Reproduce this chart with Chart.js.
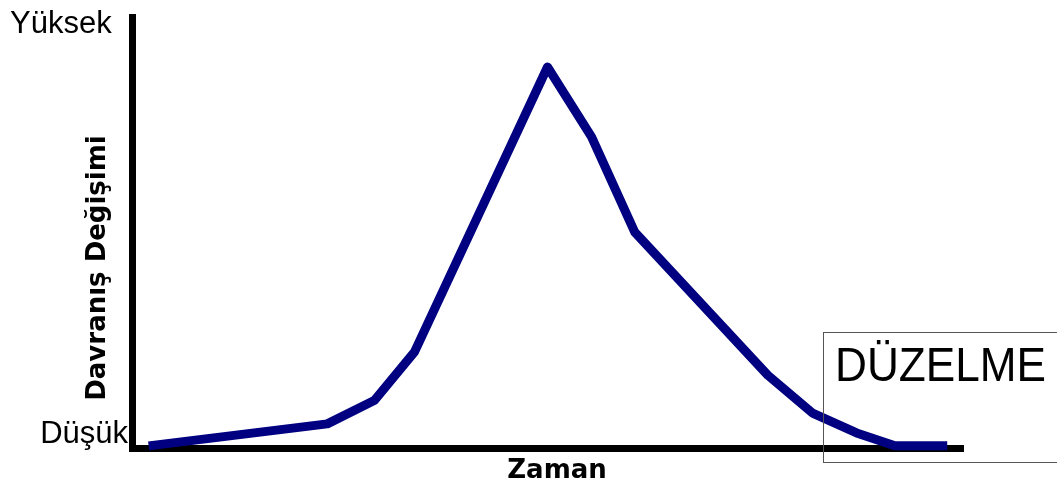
<!DOCTYPE html>
<html>
<head>
<meta charset="utf-8">
<script src="https://cdn.jsdelivr.net/npm/chart.js@4"></script>
<style>
  body { margin: 0; background: #fff; overflow: hidden; }
  #wrap { position: relative; width: 1057px; height: 492px; overflow: hidden; }
  #box {
    position: absolute; left: 823px; top: 332px; width: 300px; height: 131px;
    border: 1.5px solid #555; border-right: none; box-sizing: border-box;
  }
  #box span {
    position: absolute; left: 11px; top: 4px;
    font: 48px "Liberation Sans", Arial, sans-serif; color: #000;
    transform: scaleX(0.92); transform-origin: left top; white-space: nowrap;
  }
</style>
</head>
<body>
<div id="wrap">
  <canvas id="myChart"></canvas>
  <div id="box"><span>DÜZELME</span></div>
</div>
<script>
// zaman (0-100) ve davranış değişimi (0-100)
let zaman = [2, 23.5, 29.2, 34, 50, 55.3, 60.5, 76.5, 81.9, 87.2, 91.8, 98.1];
let degisim = [0.5, 5.6, 11.1, 22.3, 88.4, 72.2, 50.1, 16.9, 8.1, 3.5, 0.5, 0.5];

let yTickValues = [100, 0];
let yTickLabels = ["Yüksek", "Düşük"];
let yTitle = "Davranış Değişimi";
let xTitle = "Zaman";

let points = [];
for (let i = 0; i < zaman.length; i++) {
  points.push({ x: zaman[i], y: degisim[i] });
}

// eksen yazıları
const labelPlugin = {
  id: "labels",
  afterDraw(chart) {
    let ctx = chart.ctx;
    let yScale = chart.scales.y;
    let xScale = chart.scales.x;
    ctx.save();
    ctx.fillStyle = "#000";

    ctx.font = '31px "Liberation Sans", Arial, sans-serif';
    ctx.textBaseline = "alphabetic";
    ctx.textAlign = "left";
    ctx.fillText(yTickLabels[0], 10, yScale.getPixelForValue(yTickValues[0]) + 16);
    ctx.textAlign = "right";
    ctx.fillText(yTickLabels[1], 128, yScale.getPixelForValue(yTickValues[1]) - 5);

    ctx.font = 'bold 26px "DejaVu Sans", sans-serif';
    ctx.textAlign = "center";
    ctx.fillText(xTitle, 557, xScale.bottom + 30);

    ctx.translate(105, 268);
    ctx.rotate(-Math.PI / 2);
    ctx.fillText(yTitle, 0, 0);
    ctx.restore();
  },
};

let ctx = document.getElementById("myChart").getContext("2d");
let chart = new Chart(ctx, {
  type: "line",
  data: {
    datasets: [
      {
        data: points,
        borderColor: "#000080",
        borderWidth: 9,
        borderJoinStyle: "round",
        pointRadius: 0,
        tension: 0,
        clip: false,
      },
    ],
  },
  options: {
    responsive: true,
    maintainAspectRatio: false,
    animation: false,
    layout: { padding: { left: 132, top: 17, right: 94, bottom: 44 } },
    plugins: { legend: { display: false }, tooltip: { enabled: false } },
    scales: {
      x: {
        type: "linear",
        min: 0,
        max: 100,
        ticks: { display: false },
        grid: { display: false, drawTicks: false },
        border: { display: true, color: "#000", width: 7 },
      },
      y: {
        min: 0,
        max: 100,
        ticks: { display: false },
        grid: { display: false, drawTicks: false },
        border: { display: true, color: "#000", width: 7 },
      },
    },
  },
  plugins: [labelPlugin],
});
</script>
</body>
</html>
